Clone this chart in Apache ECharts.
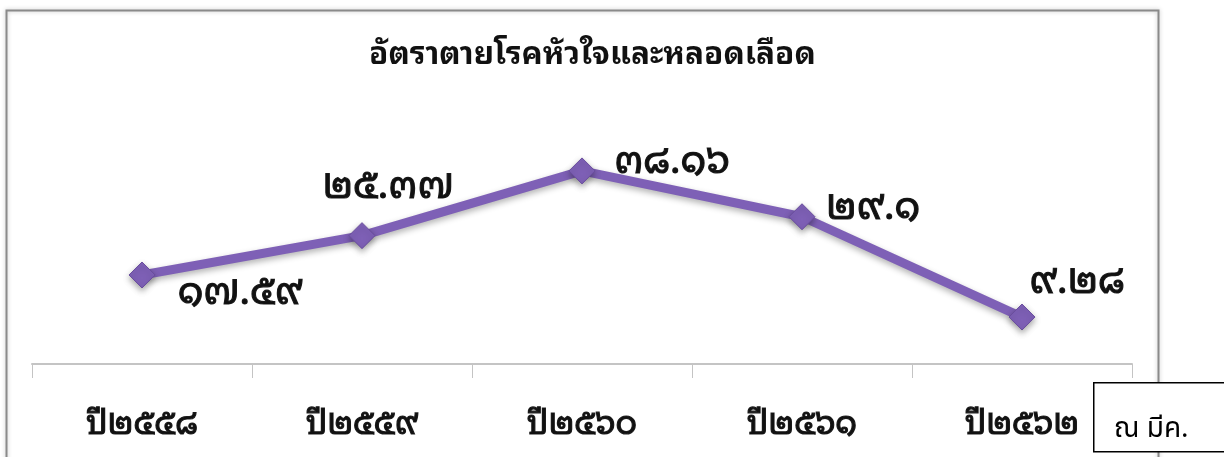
<!DOCTYPE html>
<html>
<head>
<meta charset="utf-8">
<script src="https://cdn.jsdelivr.net/npm/echarts@6/dist/echarts.min.js"></script>
<style>
  html, body { margin: 0; padding: 0; background: #ffffff; }
  #chart { width: 1224px; height: 457px; }
</style>
</head>
<body>
<div id="chart"></div>
<script>
// Death rate from cardiovascular disease, by fiscal year
const titleText = 'อัตราตายโรคหัวใจและหลอดเลือด';
const categories = ['ปี๒๕๕๘', 'ปี๒๕๕๙', 'ปี๒๕๖๐', 'ปี๒๕๖๑', 'ปี๒๕๖๒'];
const rates = [17.59, 25.37, 38.16, 29.1, 9.28];
const noteText = 'ณ มีค.';

const THAI_DIGITS = ['๐', '๑', '๒', '๓', '๔', '๕', '๖', '๗', '๘', '๙'];
function toThaiDigits(v) {
  return String(v).replace(/[0-9]/g, d => THAI_DIGITS[+d]);
}

// Offset of each value label's centre from its marker
const labelOffsets = [
  [98, 18],
  [26, -49],
  [90, -9],
  [71, -9],
  [55, -35]
];

const LINE_COLOR = '#7e60b6';
const FONT = '"Noto Sans Thai Looped", "Noto Sans Thai", "Noto Sans", sans-serif';
const NOTE_FONT = '"Noto Sans Thai", "Noto Sans", sans-serif';

const chart = echarts.init(document.getElementById('chart'), null, { renderer: 'canvas' });

chart.setOption({
  backgroundColor: '#ffffff',
  animation: false,
  title: {
    text: titleText,
    left: 364,
    top: 34,
    textStyle: { fontFamily: FONT, fontSize: 31.5, fontWeight: 'bold', color: '#111111' }
  },
  grid: { left: 32, right: 92, top: 111, bottom: 93, containLabel: false },
  xAxis: {
    type: 'category',
    data: categories,
    boundaryGap: true,
    axisLine: { show: true, lineStyle: { color: '#c4c4c4', width: 2 } },
    axisTick: { show: true, length: 14, lineStyle: { color: '#c4c4c4', width: 1 } },
    axisLabel: {
      margin: 44,
      fontFamily: FONT,
      fontSize: 33,
      fontWeight: 'normal',
      color: '#111111',
      textBorderColor: '#222222',
      textBorderWidth: 1.2
    },
    splitLine: { show: false }
  },
  yAxis: {
    type: 'value',
    min: 0,
    max: 50,
    show: false
  },
  series: [{
    type: 'line',
    data: rates.map((v, i) => ({
      value: v,
      label: { position: 'inside', offset: labelOffsets[i] }
    })),
    symbol: 'diamond',
    symbolSize: 26,
    lineStyle: {
      color: LINE_COLOR,
      width: 9,
      shadowColor: 'rgba(0,0,0,0.3)',
      shadowBlur: 6,
      shadowOffsetY: 3
    },
    itemStyle: {
      color: LINE_COLOR,
      borderColor: '#6a4d9e',
      borderWidth: 1,
      shadowColor: 'rgba(0,0,0,0.35)',
      shadowBlur: 6,
      shadowOffsetY: 3
    },
    label: {
      show: true,
      formatter: p => toThaiDigits(p.value),
      fontFamily: FONT,
      fontSize: 39,
      fontWeight: 'normal',
      color: '#111111',
      textBorderColor: '#222222',
      textBorderWidth: 1.2,
      align: 'center',
      verticalAlign: 'middle'
    }
  }],
  graphic: [
    {
      // chart frame
      type: 'rect',
      left: 4,
      top: 8,
      shape: { width: 1152, height: 470 },
      style: {
        fill: 'none',
        stroke: '#8a8a8a',
        lineWidth: 2,
        shadowColor: 'rgba(0,0,0,0.25)',
        shadowBlur: 4
      },
      silent: true,
      z: 100
    },
    {
      // date note box
      type: 'rect',
      left: 1093,
      top: 382,
      shape: { x: 0, y: 0, width: 150, height: 69 },
      style: { fill: '#ffffff', stroke: '#000000', lineWidth: 1.5 },
      z: 110
    },
    {
      type: 'text',
      left: 1114,
      top: 417,
      style: {
        text: noteText,
        fontFamily: NOTE_FONT,
        fontSize: 28,
        fill: '#000000'
      },
      z: 111
    }
  ]
});
</script>
</body>
</html>
